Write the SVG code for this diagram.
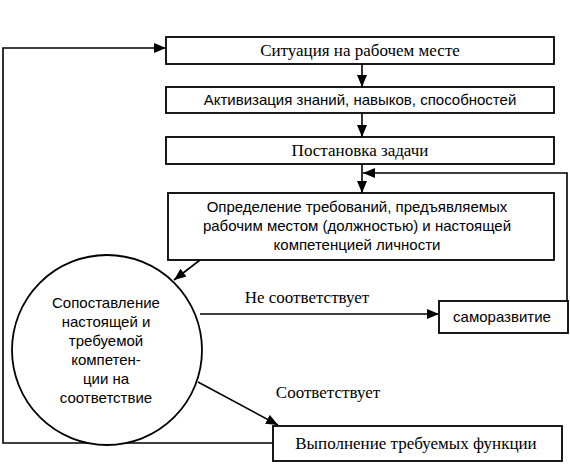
<svg xmlns="http://www.w3.org/2000/svg" width="570" height="464" viewBox="0 0 570 464">
<style>
.box{fill:#fff;stroke:#000;stroke-width:1.8}
.ln{fill:none;stroke:#000;stroke-width:1.6}
.serif{font-family:"Liberation Serif","Times New Roman",serif;font-size:17px;fill:#000;text-anchor:middle}
.sans{font-family:"Liberation Sans",Arial,sans-serif;font-size:15px;fill:#000;text-anchor:middle}
</style>
<defs>
<marker id="ah" markerWidth="12" markerHeight="10" refX="12" refY="5" orient="auto" markerUnits="userSpaceOnUse">
<path d="M0,0 L12,5 L0,10 Z" fill="#000"/>
</marker>
</defs>
<rect width="570" height="464" fill="#fff"/>
<g id="connectors">
<polyline class="ln" points="273,443 3,443 3,48 166,48" marker-end="url(#ah)"/>
<line class="ln" x1="362" y1="64" x2="362" y2="87" marker-end="url(#ah)"/>
<line class="ln" x1="362" y1="113" x2="362" y2="137" marker-end="url(#ah)"/>
<line class="ln" x1="362" y1="164" x2="362" y2="193" marker-end="url(#ah)"/>
<polyline class="ln" points="567,301 567,173 363,173" marker-end="url(#ah)"/>
<line class="ln" x1="200" y1="260" x2="174" y2="280" marker-end="url(#ah)"/>
<line class="ln" x1="200" y1="314" x2="439" y2="314" marker-end="url(#ah)"/>
<line class="ln" x1="198" y1="382" x2="278" y2="425" marker-end="url(#ah)"/>
<text class="serif" x="307" y="303" font-size="16">Не соответствует</text>
<text class="serif" x="328" y="398" font-size="15">Соответствует</text>
</g>
<g id="n1">
<rect class="box" x="166" y="37" width="388" height="27"/>
<text class="serif" x="360" y="56">Ситуация на рабочем месте</text>
</g>
<g id="n2">
<rect class="box" x="166" y="87" width="388" height="26"/>
<text class="sans" x="360" y="105" font-size="15.5">Активизация знаний, навыков, способностей</text>
</g>
<g id="n3">
<rect class="box" x="166" y="137" width="388" height="27"/>
<text class="serif" x="360" y="156">Постановка задачи</text>
</g>
<g id="n4">
<rect class="box" x="168" y="193" width="386" height="67"/>
<text class="sans" x="357" y="212">Определение требований, предъявляемых</text>
<text class="sans" x="357" y="231">рабочим местом (должностью) и настоящей</text>
<text class="sans" x="357" y="250">компетенцией личности</text>
</g>
<g id="n5">
<circle class="box" cx="107" cy="350" r="95"/>
<text class="sans" x="106" y="308" font-size="14">Сопоставление</text>
<text class="sans" x="106" y="327" font-size="14">настоящей и</text>
<text class="sans" x="106" y="346" font-size="14">требуемой</text>
<text class="sans" x="106" y="365" font-size="14">компетен-</text>
<text class="sans" x="106" y="384" font-size="14">ции на</text>
<text class="sans" x="106" y="403" font-size="14">соответствие</text>
</g>
<g id="n6">
<rect class="box" x="439" y="301" width="129" height="32"/>
<text class="sans" x="502" y="322">саморазвитие</text>
</g>
<g id="n7">
<rect class="box" x="273" y="426" width="289" height="35"/>
<text class="serif" x="416" y="449">Выполнение требуемых функции</text>
</g>
</svg>
